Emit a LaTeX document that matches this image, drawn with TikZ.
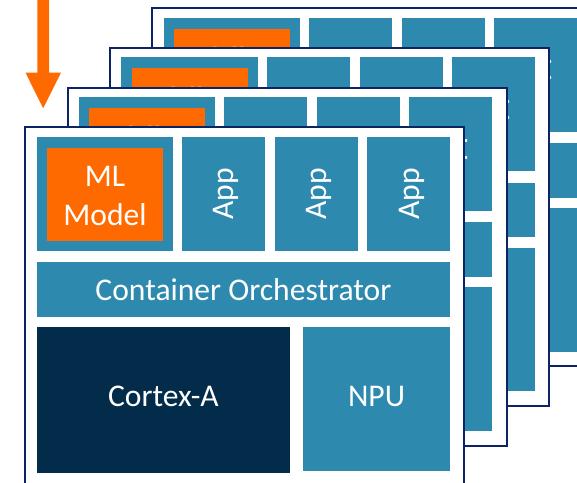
\documentclass[tikz,border=0pt]{standalone}
\usepackage{fontspec}
\setmainfont{Carlito}
\definecolor{tealc}{HTML}{2E89AE}
\definecolor{orng}{HTML}{FF6A00}
\definecolor{navyc}{HTML}{0C2461}
\definecolor{darkc}{HTML}{022C49}
\newcommand\lblfont{\fontsize{31.6}{38.5}\selectfont}
\tikzset{
  frm/.style={draw=navyc, line width=2pt, fill=white, inner sep=0pt, anchor=north west},
  blk/.style={fill=tealc, inner sep=0pt, anchor=north west},
  orgbox/.style={fill=orng, inner sep=0pt, anchor=north west},
  cpu/.style={fill=darkc, inner sep=0pt, anchor=north west},
  txt/.style={text=white, font=\lblfont, inner sep=0pt, anchor=base},
}
\begin{document}
\begin{tikzpicture}[x=1pt,y=-1pt]
\useasboundingbox (0,0) rectangle (577,482);
\clip (0,0) rectangle (577,482);
\foreach \k/\p in {3/d,2/c,1/b,0/a}{
  \begin{scope}[shift={(24.3+42.2*\k,126.3-39.8*\k)}]
    \node[frm, minimum width=439pt, minimum height=358pt] (\p frame) at (0,0) {};
    \node[blk, minimum width=136.2pt, minimum height=114pt] (\p mlcell) at (12.5,10.4) {};
    \node[orgbox, minimum width=116pt, minimum height=93pt] (\p ml) at (22.7,21.4) {};
    \node[txt] (\p mlt1) at (80.7,60.4) {ML};
    \node[txt] (\p mlt2) at (80.7,98.7) {Model};
    \node[blk, minimum width=83pt, minimum height=114pt] (\p appA) at (157.7,10.4) {};
    \node[blk, minimum width=83pt, minimum height=114pt] (\p appB) at (250.7,10.4) {};
    \node[blk, minimum width=83pt, minimum height=114pt] (\p appC) at (342.7,10.4) {};
    \node[txt, rotate=90] (\p appAt) at (209.3,67.5) {App};
    \node[txt, rotate=90] (\p appBt) at (302.5,67.5) {App};
    \node[txt, rotate=90] (\p appCt) at (395.5,67.5) {App};
    \node[blk, minimum width=413.2pt, minimum height=54.7pt] (\p orch) at (12.5,135.7) {};
    \node[txt] (\p orcht) at (219.1,174.4) {Container Orchestrator};
    \node[cpu, minimum width=253.2pt, minimum height=145.7pt] (\p cortex) at (12.5,200.7) {};
    \node[txt] (\p cortext) at (139.1,280.4) {Cortex-A};
    \node[blk, minimum width=147pt, minimum height=143.7pt] (\p npu) at (278.7,200.7) {};
    \node[txt] (\p nput) at (352.2,279.8) {NPU};
  \end{scope}
}
\fill[orng] (37.3,-2) -- (49,-2) -- (49,72.7) -- (61,72.7) -- (43.2,108.3) -- (25.5,72.7) -- (37.3,72.7) -- cycle;
\end{tikzpicture}
\end{document}
